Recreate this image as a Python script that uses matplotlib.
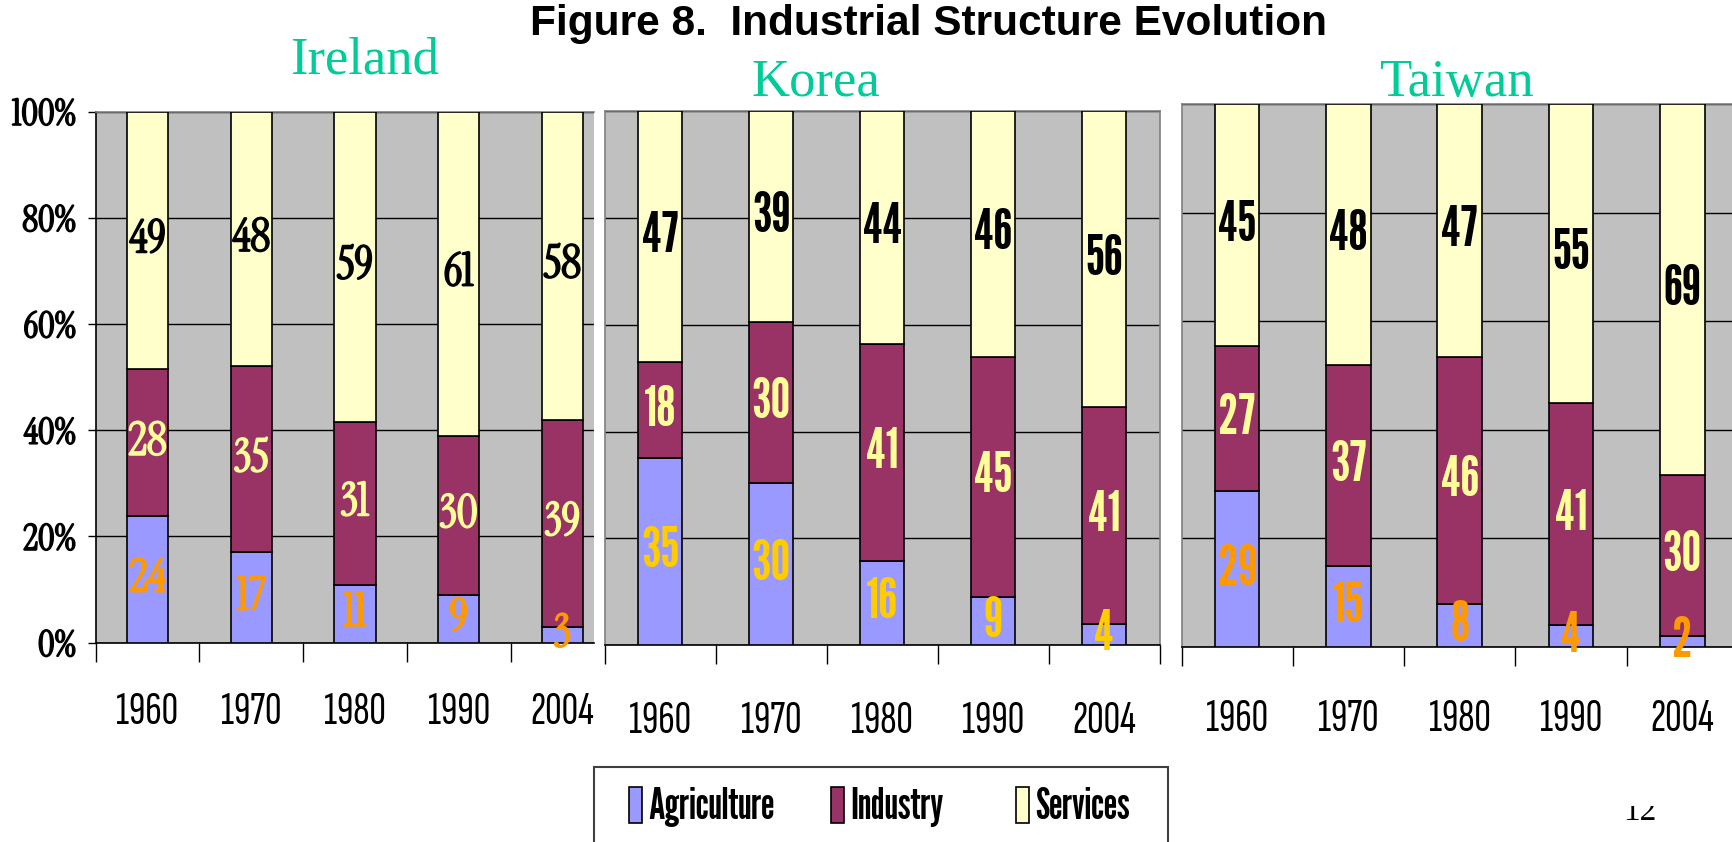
import matplotlib.pyplot as plt
import matplotlib.patheffects as pe
import numpy as np
from matplotlib.patches import Rectangle
from matplotlib.transforms import Bbox

# data (shares in %, each bar normalised to 100%)
years = ['1960', '1970', '1980', '1990', '2004']
sectors = ['Agriculture', 'Industry', 'Services']

ireland_agri = [24, 17, 11, 9, 3]
ireland_ind = [28, 35, 31, 30, 39]
ireland_serv = [49, 48, 59, 61, 58]

korea_agri = [35, 30, 16, 9, 4]
korea_ind = [18, 30, 41, 45, 41]
korea_serv = [47, 39, 44, 46, 56]

taiwan_agri = [29, 15, 8, 4, 2]
taiwan_ind = [27, 37, 46, 41, 30]
taiwan_serv = [45, 48, 47, 55, 69]

W, H = 1733, 842
fig = plt.figure(figsize=(W / 100, H / 100), dpi=100)
fig.patch.set_facecolor('white')

# the chart picture on the slide is stretched tall, so use narrow faces
BOLD_N = ['League Gothic', 'Liberation Sans']
REG_N = ['Sofia Sans Extra Condensed', 'Liberation Sans']
SERIF_N = ['Instrument Serif', 'Liberation Serif']
SERIF = ['Liberation Serif']
TEAL = '#00CC99'
bar_cols = ['#9999FF', '#993366', '#FFFFCC']


def fatten(col, w=1.3):
    # Instrument Serif has no bold face, thicken the strokes a little
    return [pe.withStroke(linewidth=w, foreground=col)]


def px_axes(left, top, right, bottom):
    return fig.add_axes([left / W, 1 - bottom / H, (right - left) / W, (bottom - top) / H])


def panel(ax, agri, ind, serv, agri_lab_col, serif, xmax, ylabels, year_pad):
    agri, ind, serv = np.array(agri), np.array(ind), np.array(serv)
    tot = agri + ind + serv
    a, i, s = agri / tot * 100, ind / tot * 100, serv / tot * 100
    x = np.arange(len(years))
    ax.set_facecolor('#C0C0C0')
    kw = dict(width=0.4, edgecolor='black', linewidth=1.2, zorder=3)
    b1 = ax.bar(x, a, color=bar_cols[0], **kw)
    b2 = ax.bar(x, i, bottom=a, color=bar_cols[1], **kw)
    b3 = ax.bar(x, s, bottom=a + i, color=bar_cols[2], **kw)

    for bars, vals, col in [(b1, agri, agri_lab_col), (b2, ind, '#FFFF99'), (b3, serv, 'black')]:
        if serif:
            fp = dict(family=SERIF_N, fontsize=33, path_effects=fatten(col))
        else:
            fp = dict(family=BOLD_N, fontsize=40)
        ax.bar_label(bars, labels=[str(v) for v in vals], label_type='center', color=col, zorder=5, **fp)

    ax.set_yticks([0, 20, 40, 60, 80, 100])
    ax.yaxis.grid(True, color='black', linewidth=1)
    ax.set_axisbelow(True)

    ax.set_xticks(x, labels=years)
    ax.set_xticks(np.arange(-0.5, len(years), 1), minor=True)
    ax.set_xlim(-0.5, xmax)
    ax.set_ylim(0, 100)
    ax.tick_params(axis='x', which='major', length=0, pad=year_pad)
    ax.tick_params(axis='x', which='minor', length=14, width=1, color='black')
    for lb in ax.get_xticklabels():
        lb.set_family(REG_N)
        lb.set_fontsize(33)
        lb.set_va('center')

    ax.spines['bottom'].set_color('black')
    ax.spines['top'].set_color('#808080')
    ax.spines['right'].set_color('#808080')
    if ylabels:
        ax.set_yticklabels(['0%', '20%', '40%', '60%', '80%', '100%'])
        ax.tick_params(axis='y', length=5.8, width=1, color='black', pad=8.5)
        for lb in ax.get_yticklabels():
            lb.set_family(SERIF_N)
            lb.set_fontsize(26)
            lb.set_path_effects(fatten('black', 1.2))
        ax.spines['left'].set_color('black')
        ax.spines['right'].set_visible(False)
    else:
        ax.tick_params(axis='y', left=False, labelleft=False)
        ax.spines['left'].set_color('#808080')
    for sp in ax.spines.values():
        sp.set_linewidth(1.2)
    return b1, b2, b3


ax_ie = px_axes(95.7, 111.5, 594.0, 642.7)
ax_kr = px_axes(604.8, 111.2, 1159.7, 645.1)
ax_tw = px_axes(1181.5, 104.3, 1738.0, 647.0)

handles = panel(ax_ie, ireland_agri, ireland_ind, ireland_serv, '#FF9900', True, 4.305, True, 50)
panel(ax_kr, korea_agri, korea_ind, korea_serv, '#FFCC00', False, 4.5, False, 55)
panel(ax_tw, taiwan_agri, taiwan_ind, taiwan_serv, '#FF9900', False, 4.5, False, 52)

# titles
fig.text(929 / W, 1 - 24 / H, 'Figure 8.  Industrial Structure Evolution', ha='center', va='center',
         fontsize=30.5, fontweight='bold', family=['Liberation Sans'])
for name, cx, cy in [('Ireland', 365, 61), ('Korea', 816, 83), ('Taiwan', 1456, 83)]:
    fig.text(cx / W, 1 - cy / H, name, ha='center', va='center', fontsize=38, color=TEAL, family=SERIF)

# legend: frame runs off the bottom of the slide, one entry per sector
fig.add_artist(Rectangle((594 / W, 1 - 870 / H), (1168 - 594) / W, (870 - 767) / H,
                         transform=fig.transFigure, fill=False, edgecolor='#404040', linewidth=1.5))
for h, lab, lx in zip(handles, sectors, [629, 831, 1016]):
    leg = fig.legend([h], [lab], loc='center left', bbox_to_anchor=(lx / W, 1 - 807 / H), frameon=False,
                     prop=dict(family=BOLD_N, size=30.5), handlelength=0.3, handleheight=0.95,
                     handletextpad=0.15, borderpad=0, borderaxespad=0)

# page number, mostly hidden in the slide
pn = fig.text(1640 / W, 1 - 820 / H, '12', ha='center', va='baseline', fontsize=24, family=SERIF)
pn.set_clip_box(Bbox([[1550, 0], [1733, 842 - 806]]))
pn.set_clip_on(True)

fig.savefig('out.png', dpi=100, facecolor='white')
